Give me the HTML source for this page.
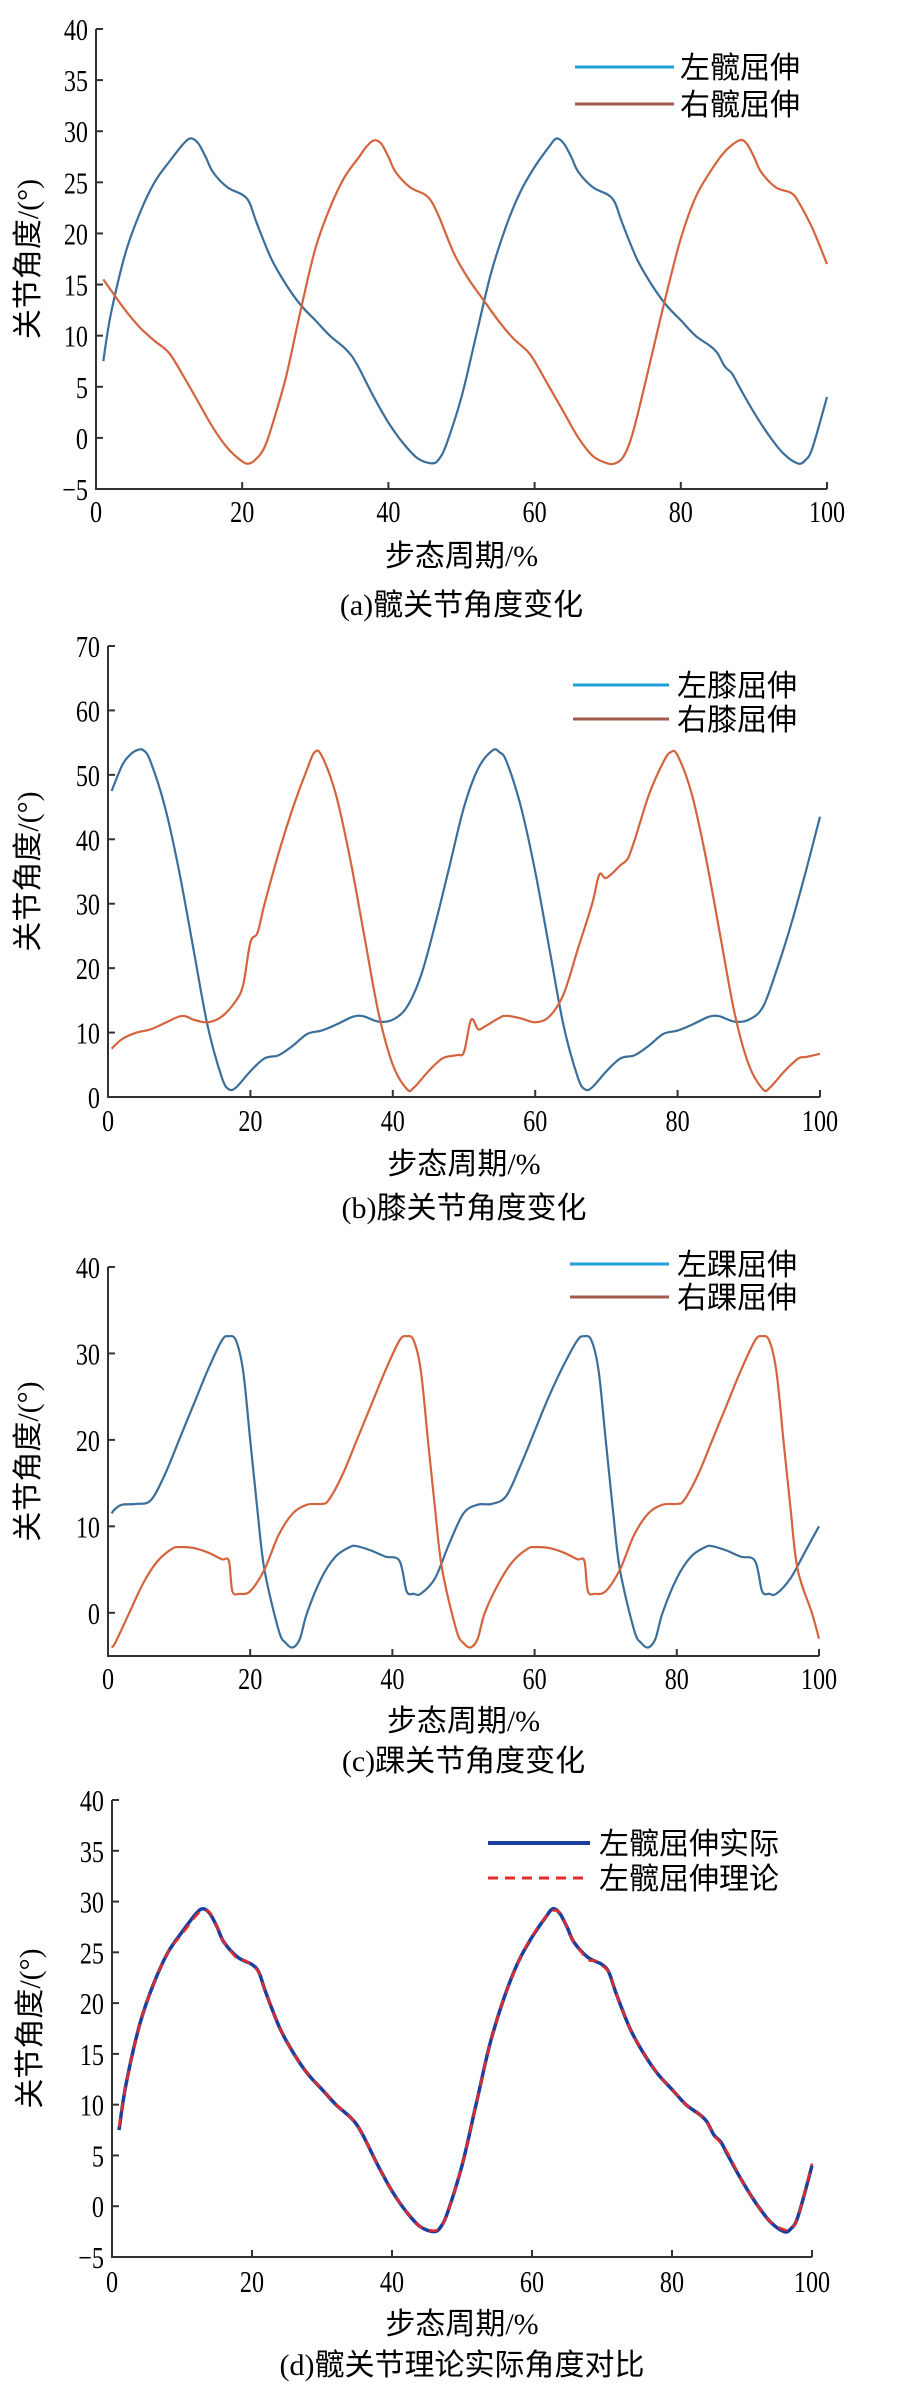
<!DOCTYPE html>
<html><head><meta charset="utf-8">
<style>
html,body{margin:0;padding:0;background:#fff;}
svg{display:block;}
text{font-family:"Liberation Serif","Noto Serif CJK SC","Noto Sans CJK SC",serif;fill:#000;}
.cjk{font-family:"Liberation Serif","Noto Sans CJK SC",sans-serif;}
</style></head>
<body>
<svg id="fig" width="908" height="2393" viewBox="0 0 908 2393" xmlns="http://www.w3.org/2000/svg"></svg>
<script>
// ---- Data (a) hip ----
const hipLeftX=[1,2,4,6,8,10,12,13,14,15,16,18,20,21,22,24,26,28,30,32,34,35,36,38,40,42,44,46,47,48,50,52,54,56,58,60,62,63,64,65,66,68,70,71,72,74,76,78,80,82,84,85,86,87,88,90,92,94,96,97,98,100];
const hipLeftY=[7.5,12,18,22,25,27,28.8,29.3,28.8,27.5,26,24.5,23.8,23,21,17.5,15,13,11.5,10,8.8,8,6.8,4,1.5,-0.5,-2,-2.5,-2,-0.5,4,10,16,20.5,24,26.5,28.5,29.3,28.8,27.5,26,24.5,23.8,23,21,17.5,15,13,11.5,10,9,8.3,7,6.3,5,2.5,0.3,-1.5,-2.5,-2.2,-1,4];
const hipRightX=[1,2,4,6,8,10,12,14,16,18,20,21,22,23,24,26,28,30,32,34,36,37,38,39,40,41,43,45,46,47,49,51,53,55,57,59,60,62,64,66,68,70,71,72,73,74,76,78,80,82,84,86,88,89,90,91,93,95,96,98,100];
const hipRightY=[15.5,14.5,12.5,10.8,9.5,8.3,6,3.5,1,-1,-2.3,-2.5,-2,-1,1,6,12.5,18.5,22.5,25.5,27.5,28.5,29.1,28.8,27.5,26,24.5,23.8,23,21.5,18,15.5,13.5,11.5,9.8,8.5,7.5,5,2.5,0,-1.8,-2.5,-2.5,-2,-0.5,2,8,14,19.5,23.5,26,28,29.1,28.8,27.5,26,24.5,24,23.2,20.5,17];
// ---- Data (b) knee ----
const kneeLeftX=[0.5,2,3,4,5,6,8,10,12,14,16,17,18,20,22,24,26,28,30,32,34,35,36,38,40,42,44,46,48,50,52,54,55,56,58,60,62,64,66,67,68,70,72,74,76,78,80,82,84,85,86,88,90,92,94,96,98,100];
const kneeLeftY=[47.5,51.5,53,53.8,53.8,52,45,35,23,11,3,1.2,1.5,4,6,6.5,8,9.8,10.3,11.2,12.3,12.6,12.5,11.7,12,14,19,27,36,45,51,53.8,53.5,52,45,35,23,11,3,1.2,1.5,4,6,6.5,8,9.8,10.3,11.2,12.3,12.6,12.5,11.7,12,14,20,27,35,43.5];
const kneeRightX=[0.5,2,4,6,8,10,11,12,14,16,18,19,20,21,22,24,26,28,29,30,32,34,36,38,40,42,43,45,47,49,50,51,52,53,55,56,58,60,62,64,66,68,69,70,72,73,74,76,78,79,80,82,84,86,88,90,92,93,95,97,98,100];
const kneeRightY=[7.5,9,10,10.5,11.5,12.5,12.5,12,11.6,12.5,15,17.5,24,25.5,30,38,45,51,53.5,53,47,37,25,13,5,1.2,1.5,4,6,6.5,7,12,10.5,11,12.3,12.6,12.2,11.6,12.5,16,23,30,34.5,34,36,37,40,47,52,53.5,53,47,37,25,13,5,1.2,1.5,4,6,6.2,6.7];
// ---- Data (c) ankle ----
const ankleLeftX=[0.5,1,2,4,6,8,10,12,14,16,17,18,19,20,21,22,24,25,26,27,28,30,32,34,35,37,39,41,42,43,44,46,48,50,52,54,56,58,60,62,64,66,67,68,69,70,71,72,74,75,76,77,78,80,82,84,85,87,89,91,92,93,94,96,98,100];
const ankleLeftY=[11.5,12,12.5,12.6,13,16,20,24,28,31.5,32,31.5,28,20,12,5,-2,-3.5,-4,-3,0,4,6.5,7.6,7.7,7.2,6.5,6,2.5,2.2,2.2,4,8,11.5,12.5,12.6,13.5,17,21,25,28.5,31.5,32,31.5,28,20,12,5,-2,-3.5,-4,-3,0,4,6.5,7.6,7.7,7.2,6.5,6,2.5,2.2,2.2,4,7,10];
const ankleRightX=[0.5,1,3,5,7,9,10,12,14,16,17,17.5,18.5,20,22,24,26,28,30,31,33,35,37,39,41,42,43,44,45,46,47,49,50,51,52,53,55,57,59,60,62,64,66,67,67.5,68.5,70,72,74,76,78,80,81,83,85,87,89,91,92,93,94,95,96,97,99,100];
const ankleRightY=[-4,-3.5,0,3.5,6,7.4,7.6,7.5,7,6.2,6,2.5,2.2,2.5,5,9,11.5,12.5,12.6,13,16,20,24,28,31.5,32,31.5,28,20,12,5,-2,-3.5,-4,-3,0,3.5,6,7.4,7.6,7.5,7,6.2,6,2.5,2.2,2.5,5,9,11.5,12.5,12.6,13,16,20,24,28,31.5,32,31.5,28,20,12,5,0,-3];
// ---- Data (d) hip actual vs theory ----
const cmpActualX=hipLeftX;
const cmpActualY=hipLeftY;
const cmpTheoryX=[1,2,4,6,8,10,12,13,14,15,16,18,19,20,21,22,24,26,28,30,32,34,35,36,38,40,42,44,46,47,48,50,52,54,56,58,60,62,63,64,65,66,68,69,70,71,72,74,76,78,80,82,84,85,86,87,88,90,92,94,96,97,98,100];
const cmpTheoryY=[7.8,12,18,22,25,26.8,28.6,29.1,28.9,27.5,26,24.3,24.2,23.7,23,21,17.5,15,13,11.5,10,8.8,8,6.8,4,1.5,-0.5,-2,-2.4,-2,-0.5,4,10,16,20.5,24,26.6,28.5,29.1,28.9,27.5,26,24.3,24.2,23.7,23,21,17.5,15,13,11.5,10,9,8.3,7,6.2,5.2,2.5,0.3,-1.5,-2.3,-2.2,-1,4.2];
const xTicks=[0,20,40,60,80,100];
const hipYTicks=[-5,0,5,10,15,20,25,30,35,40];
const kneeYTicks=[0,10,20,30,40,50,60,70];
const ankleYTicks=[0,10,20,30,40];
const cmpYTicks=[-5,0,5,10,15,20,25,30,35,40];

const svg=document.getElementById('fig');
const NS='http://www.w3.org/2000/svg';
function mk(tag,attrs,parent){const e=document.createElementNS(NS,tag);for(const k in attrs)e.setAttribute(k,attrs[k]);(parent||svg).appendChild(e);return e;}

function smoothPath(pts){
  let d='M'+pts[0][0].toFixed(1)+','+pts[0][1].toFixed(1);
  for(let i=0;i<pts.length-1;i++){
    const p0=pts[Math.max(0,i-1)],p1=pts[i],p2=pts[i+1],p3=pts[Math.min(pts.length-1,i+2)];
    const c1x=p1[0]+(p2[0]-p0[0])/6,c1y=p1[1]+(p2[1]-p0[1])/6;
    const c2x=p2[0]-(p3[0]-p1[0])/6,c2y=p2[1]-(p3[1]-p1[1])/6;
    d+=` C${c1x.toFixed(1)},${c1y.toFixed(1)} ${c2x.toFixed(1)},${c2y.toFixed(1)} ${p2[0].toFixed(1)},${p2[1].toFixed(1)}`;
  }
  return d;
}

function panel(p){
  const g=mk('g',{});
  
  
  const sx=v=>p.x0+(v-0)/100*(p.x1-p.x0);
  const sy=v=>p.yb+(v-p.ymin)/(p.ymax-p.ymin)*(p.yt-p.yb);
  const ax=mk('path',{d:`M${p.x0},${p.yt} V${p.yb} H${p.x1}`,fill:'none',stroke:'#333','stroke-width':2},g);
  
  
  p.yticks.forEach(t=>{
    const y=sy(t);
    const tk=mk('line',{x1:p.x0,x2:p.x0+7,y1:y,y2:y,stroke:'#333','stroke-width':2},g);
    
    
    const lb=mk('text',{x:0,y:0,'text-anchor':'end','font-size':31,transform:`translate(${p.x0-8},${y+11}) scale(0.78,1)`},g);
    lb.textContent=t<0?'\u2212'+(-t):String(t);
    
    
  });
  xTicks.forEach(t=>{
    const x=sx(t);
    const tk=mk('line',{x1:x,x2:x,y1:p.yb,y2:p.yb-7,stroke:'#333','stroke-width':2},g);
    
    
    const lb=mk('text',{x:0,y:0,'text-anchor':'middle','font-size':31,transform:`translate(${x},${p.tickY}) scale(0.78,1)`},g);
    lb.textContent=String(t);
    
    
  });
  p.series.forEach(s=>{
    const pts=s.xs.map((v,i)=>[sx(v),sy(s.ys[i])]);
    const attrs={d:smoothPath(pts),fill:'none',stroke:s.color,'stroke-width':s.w,'stroke-linejoin':'round'};
    if(s.dash)attrs['stroke-dasharray']=s.dash;
    const pe=mk('path',attrs,g);
    
    
  });
  p.legend.forEach((l,i)=>{
    const y=p.legY[i];
    const la={x1:p.legX0,x2:p.legX1,y1:y,y2:y,stroke:l.color,'stroke-width':l.w};
    if(l.dash)la['stroke-dasharray']=l.dash;
    const ln=mk('line',la,g);
    
    
    const tx=mk('text',{x:p.legTX,y:y+11,'font-size':30,class:'cjk'},g);
    tx.textContent=l.label;
    
    
  });
  const yl=mk('text',{x:0,y:0,'font-size':30,'text-anchor':'middle',class:'cjk',transform:`translate(${p.ylx},${(p.yt+p.yb)/2}) rotate(-90)`},g);
  yl.textContent='关节角度/(°)';
  
  
  const xl=mk('text',{x:(p.x0+p.x1)/2,y:p.xlY,'font-size':30,'text-anchor':'middle',class:'cjk'},g);
  xl.textContent='步态周期/%';
  
  
  const cp=mk('text',{x:(p.x0+p.x1)/2,y:p.capY,'font-size':30,'text-anchor':'middle',class:'cjk'},g);
  cp.textContent=p.caption;
  
  
}
const BLUE='#3b6f9a', ORANGE='#d3643e', LBLUE='#1ea0d8', LBROWN='#a35a48';
panel({name:'hip-panel',x0:96,x1:827,yt:29,yb:489,ymin:-5,ymax:40,yticks:hipYTicks,tickY:522,xlY:566,capY:615,ylx:38,
  caption:'(a)髋关节角度变化',
  series:[{name:'left-hip-line',xs:hipLeftX,ys:hipLeftY,color:BLUE,w:2.2},{name:'right-hip-line',xs:hipRightX,ys:hipRightY,color:ORANGE,w:2.2}],
  legX0:575,legX1:674,legTX:680,legY:[67,104],
  legend:[{label:'左髋屈伸',color:LBLUE,w:3},{label:'右髋屈伸',color:LBROWN,w:3}]});
panel({name:'knee-panel',x0:108,x1:820,yt:646,yb:1097,ymin:0,ymax:70,yticks:kneeYTicks,tickY:1131,xlY:1174,capY:1218,ylx:38,
  caption:'(b)膝关节角度变化',
  series:[{name:'left-knee-line',xs:kneeLeftX,ys:kneeLeftY,color:BLUE,w:2.2},{name:'right-knee-line',xs:kneeRightX,ys:kneeRightY,color:ORANGE,w:2.2}],
  legX0:573,legX1:669,legTX:677,legY:[685,719],
  legend:[{label:'左膝屈伸',color:LBLUE,w:3},{label:'右膝屈伸',color:LBROWN,w:3}]});
panel({name:'ankle-panel',x0:108,x1:819,yt:1267,yb:1656,ymin:-5,ymax:40,yticks:ankleYTicks,tickY:1689,xlY:1731,capY:1771,ylx:38,
  caption:'(c)踝关节角度变化',
  series:[{name:'left-ankle-line',xs:ankleLeftX,ys:ankleLeftY,color:BLUE,w:2.2},{name:'right-ankle-line',xs:ankleRightX,ys:ankleRightY,color:ORANGE,w:2.2}],
  legX0:570,legX1:669,legTX:677,legY:[1264,1297],
  legend:[{label:'左踝屈伸',color:LBLUE,w:3},{label:'右踝屈伸',color:LBROWN,w:3}]});
panel({name:'hip-compare-panel',x0:112,x1:812,yt:1800,yb:2257,ymin:-5,ymax:40,yticks:cmpYTicks,tickY:2292,xlY:2334,capY:2375,ylx:40,
  caption:'(d)髋关节理论实际角度对比',
  series:[{name:'actual-line',xs:cmpActualX,ys:cmpActualY,color:'#1c3f9e',w:3.5},{name:'theory-line',xs:cmpTheoryX,ys:cmpTheoryY,color:'#e42a2a',w:2.5,dash:'9,7'}],
  legX0:488,legX1:590,legTX:599,legY:[1843,1878],
  legend:[{label:'左髋屈伸实际',color:'#1c3f9e',w:4},{label:'左髋屈伸理论',color:'#e42a2a',w:3,dash:'10,7'}]});
</script>
</body></html>
